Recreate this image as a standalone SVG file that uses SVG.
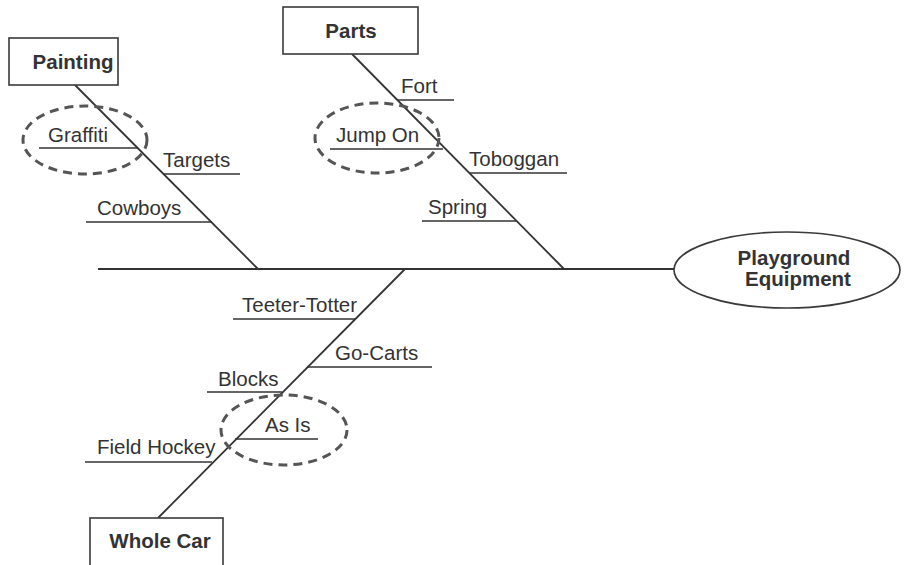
<svg xmlns="http://www.w3.org/2000/svg" width="904" height="565" viewBox="0 0 904 565">
<style>
.bg{fill:#fff}
.box{fill:#fff;stroke:#3a3a3a;stroke-width:1.6}
.bone{stroke:#333;stroke-width:1.8;fill:none}
.twig{stroke:#333;stroke-width:1.6;fill:none}
.ring{fill:none;stroke:#555;stroke-width:3;stroke-dasharray:9 6}
.lbl{font-family:"Liberation Sans",Arial,sans-serif;font-size:20.5px;fill:#333}
.head{font-family:"Liberation Sans",Arial,sans-serif;font-size:20.5px;font-weight:bold;fill:#333;text-anchor:middle}
</style>
<rect class="bg" x="0" y="0" width="904" height="565"/>
<g id="connectors">
  <line class="bone" x1="98" y1="269" x2="674" y2="269"/>
  <line class="bone" x1="75" y1="85" x2="258" y2="269"/>
  <line class="bone" x1="352" y1="54" x2="564" y2="269"/>
  <line class="bone" x1="405" y1="269" x2="158" y2="518"/>
  <line class="twig" x1="39" y1="148" x2="138" y2="148"/>
  <line class="twig" x1="164" y1="174" x2="240" y2="174"/>
  <line class="twig" x1="86" y1="222" x2="212" y2="222"/>
  <line class="twig" x1="398" y1="100" x2="454" y2="100"/>
  <line class="twig" x1="330" y1="149" x2="443" y2="149"/>
  <line class="twig" x1="470" y1="173" x2="567" y2="173"/>
  <line class="twig" x1="422" y1="221" x2="516" y2="221"/>
  <line class="twig" x1="233" y1="319" x2="355" y2="319"/>
  <line class="twig" x1="307" y1="367" x2="432" y2="367"/>
  <line class="twig" x1="207" y1="392" x2="282" y2="392"/>
  <line class="twig" x1="235" y1="439" x2="318" y2="439"/>
  <line class="twig" x1="85" y1="462" x2="212" y2="462"/>
</g>
<g id="painting">
  <rect class="box" x="9" y="38" width="109" height="47"/>
  <text class="head" x="73" y="69">Painting</text>
</g>
<g id="parts">
  <rect class="box" x="283" y="7" width="135" height="47"/>
  <text class="head" x="351" y="38">Parts</text>
</g>
<g id="whole-car">
  <rect class="box" x="90" y="518" width="133" height="52"/>
  <text class="head" x="160" y="548">Whole Car</text>
</g>
<g id="effect">
  <ellipse cx="787" cy="270" rx="113" ry="38" fill="#fff" stroke="#3a3a3a" stroke-width="1.6"/>
  <text class="head" x="794" y="265">Playground</text>
  <text class="head" x="798" y="286">Equipment</text>
</g>
<g id="graffiti">
  <text class="lbl" x="48" y="142">Graffiti</text>
  <ellipse class="ring" cx="85" cy="140" rx="62" ry="34"/>
</g>
<g id="targets"><text class="lbl" x="163" y="167">Targets</text></g>
<g id="cowboys"><text class="lbl" x="97" y="215">Cowboys</text></g>
<g id="fort"><text class="lbl" x="401" y="93">Fort</text></g>
<g id="jump-on">
  <text class="lbl" x="336" y="142">Jump On</text>
  <ellipse class="ring" cx="377" cy="138" rx="62" ry="35"/>
</g>
<g id="toboggan"><text class="lbl" x="469" y="166">Toboggan</text></g>
<g id="spring"><text class="lbl" x="428" y="214">Spring</text></g>
<g id="teeter-totter"><text class="lbl" x="242" y="312">Teeter-Totter</text></g>
<g id="go-carts"><text class="lbl" x="335" y="360">Go-Carts</text></g>
<g id="blocks"><text class="lbl" x="218" y="386">Blocks</text></g>
<g id="as-is">
  <text class="lbl" x="265" y="432">As Is</text>
  <ellipse class="ring" cx="284" cy="430" rx="63" ry="35"/>
</g>
<g id="field-hockey"><text class="lbl" x="97" y="454">Field Hockey</text></g>
</svg>
